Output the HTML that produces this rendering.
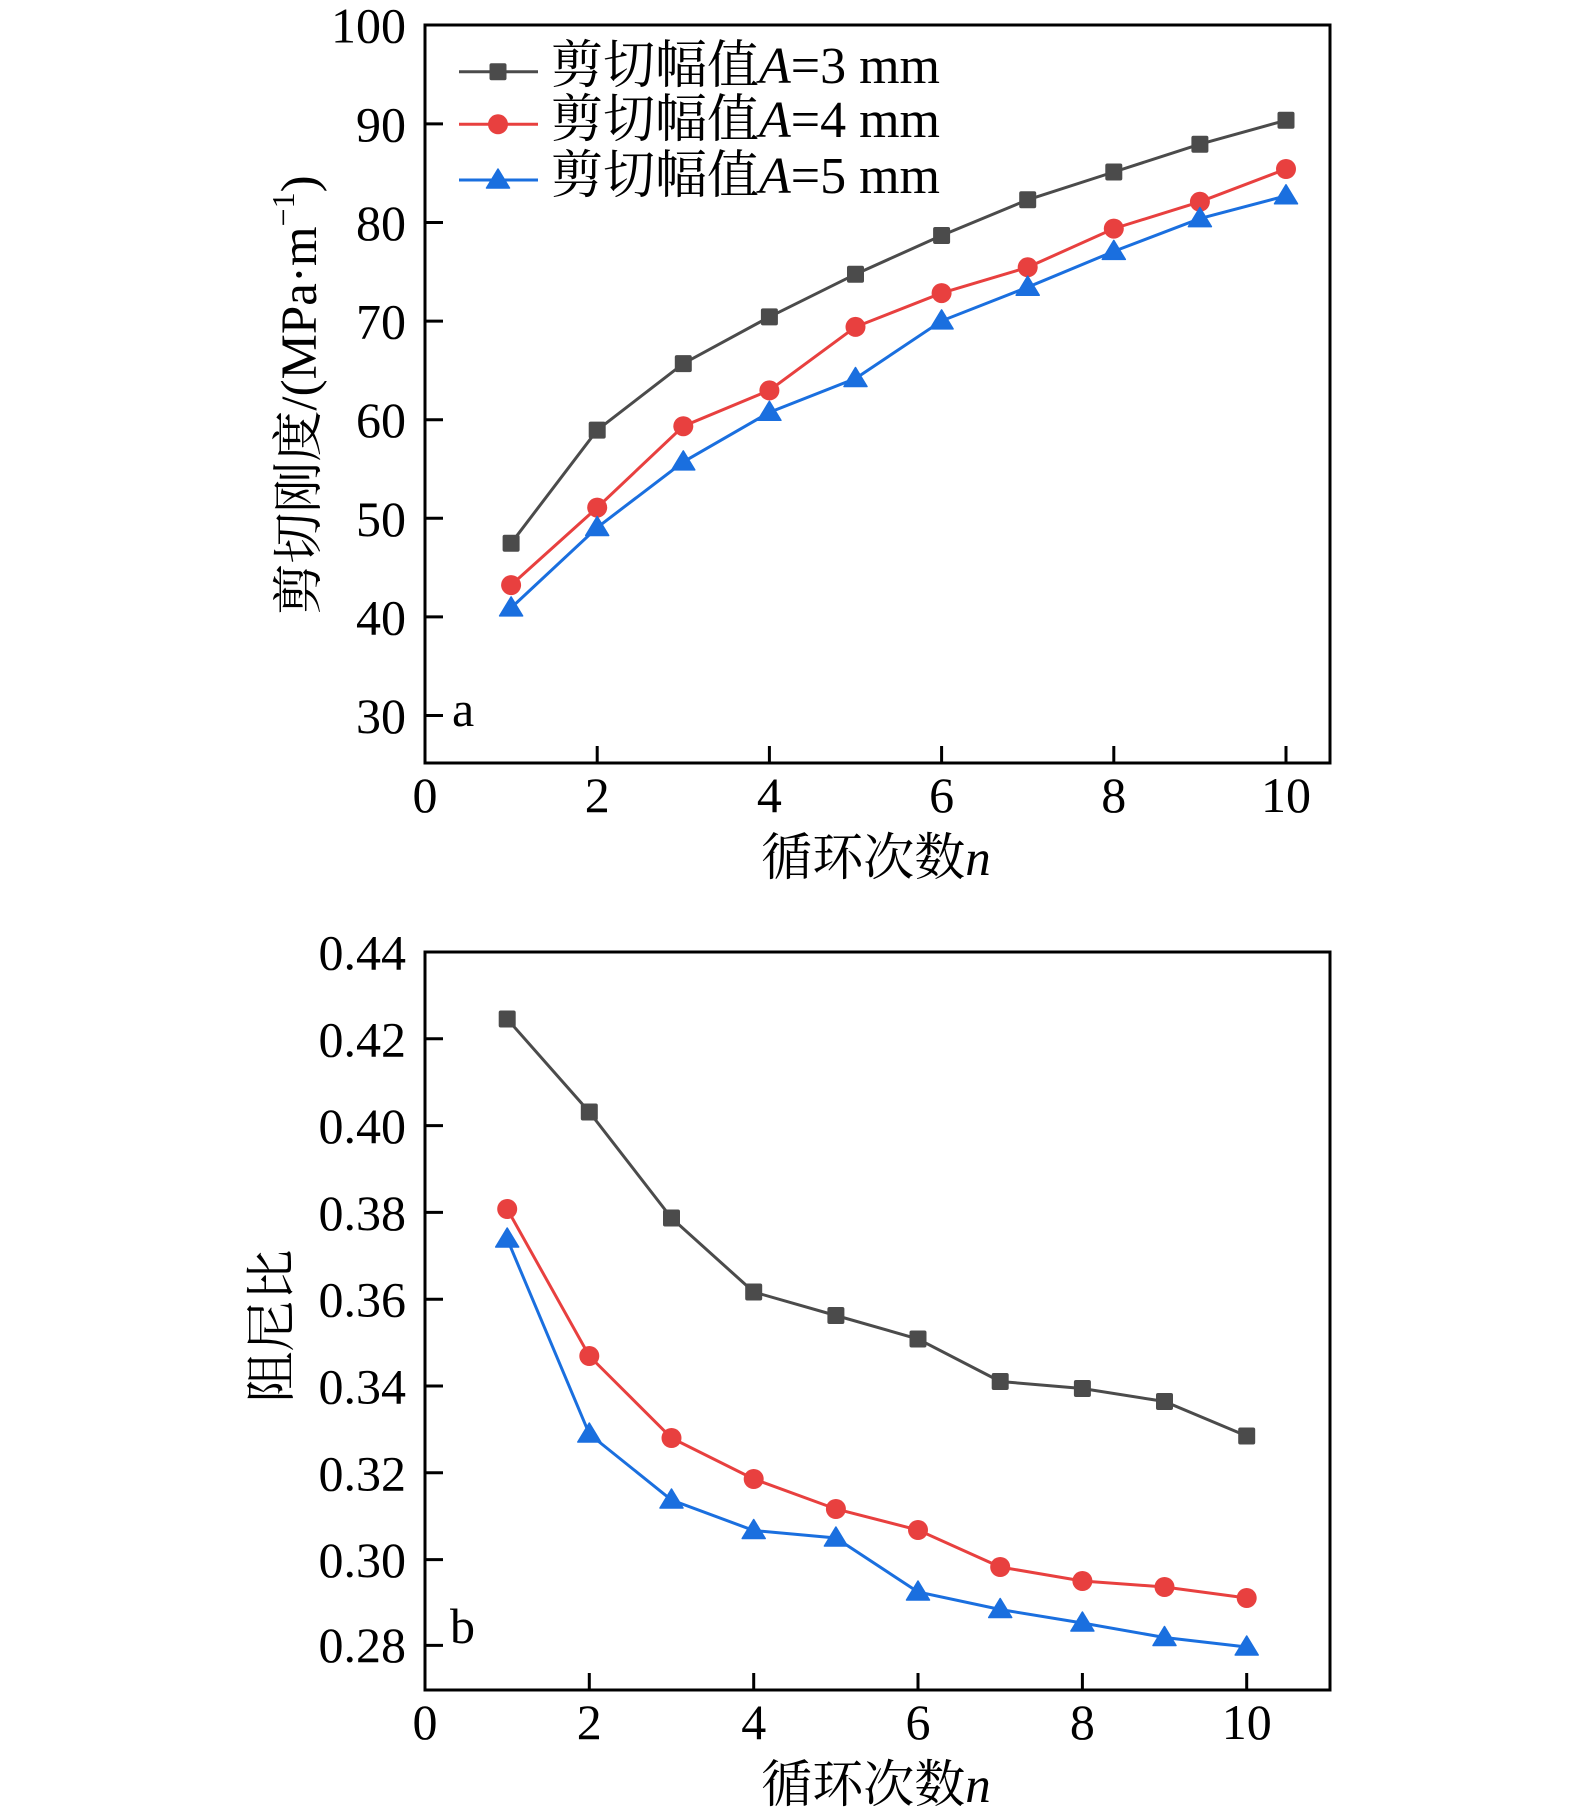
<!DOCTYPE html>
<html>
<head>
<meta charset="utf-8">
<style>
  html,body{margin:0;padding:0;background:#fff;}
  svg{display:block;}
  .t{font-family:"Liberation Serif","Noto Serif CJK SC",serif;fill:#000;}
</style>
</head>
<body>
<svg width="1575" height="1817" viewBox="0 0 1575 1817" xmlns="http://www.w3.org/2000/svg">
  <defs>
    <g id="sq"><rect x="-8.5" y="-8.5" width="17" height="17" rx="2" fill="#4b4b4b"/></g>
    <g id="ci"><circle r="10" fill="#e8403f"/></g>
    <g id="tr"><path d="M0,-11 L11.5,8 L-11.5,8 Z" fill="#1a6fdf" stroke="#1a6fdf" stroke-width="1.5" stroke-linejoin="round"/></g>
  </defs>

  <!-- ================= PLOT A ================= -->
  <rect x="425" y="25" width="905" height="738" fill="none" stroke="#000" stroke-width="3"/>
  <g stroke="#000" stroke-width="3">
    <line x1="425" y1="123.9" x2="443" y2="123.9"/>
    <line x1="425" y1="222.5" x2="443" y2="222.5"/>
    <line x1="425" y1="321.1" x2="443" y2="321.1"/>
    <line x1="425" y1="419.7" x2="443" y2="419.7"/>
    <line x1="425" y1="518.3" x2="443" y2="518.3"/>
    <line x1="425" y1="616.9" x2="443" y2="616.9"/>
    <line x1="425" y1="715.5" x2="443" y2="715.5"/>
    <line x1="597.2" y1="763" x2="597.2" y2="746"/>
    <line x1="769.4" y1="763" x2="769.4" y2="746"/>
    <line x1="941.6" y1="763" x2="941.6" y2="746"/>
    <line x1="1113.8" y1="763" x2="1113.8" y2="746"/>
    <line x1="1286" y1="763" x2="1286" y2="746"/>
  </g>
  <g class="t" font-size="50" text-anchor="end">
    <text x="406" y="42.5">100</text>
    <text x="406" y="141.4">90</text>
    <text x="406" y="240">80</text>
    <text x="406" y="338.6">70</text>
    <text x="406" y="437.2">60</text>
    <text x="406" y="535.8">50</text>
    <text x="406" y="634.4">40</text>
    <text x="406" y="733">30</text>
  </g>
  <g class="t" font-size="50" text-anchor="middle">
    <text x="425" y="812">0</text>
    <text x="597.2" y="812">2</text>
    <text x="769.4" y="812">4</text>
    <text x="941.6" y="812">6</text>
    <text x="1113.8" y="812">8</text>
    <text x="1286" y="812">10</text>
  </g>
  <text class="t" font-size="50" x="452" y="726">a</text>
  <text class="t" font-size="51" x="876" y="875" text-anchor="middle">循环次数<tspan font-style="italic">n</tspan></text>
  <text class="t" font-size="51" text-anchor="middle" transform="translate(316,395) rotate(-90)">剪切刚度/(MPa·m<tspan font-size="32" dy="-22">−1</tspan><tspan dy="22">)</tspan></text>

  <polyline fill="none" stroke="#4b4b4b" stroke-width="3" points="511.1,543.3 597.2,430.1 683.3,363.6 769.4,316.9 855.5,274.2 941.6,235.5 1027.7,199.8 1113.8,172 1199.9,144.2 1286,120.3"/>
  <polyline fill="none" stroke="#e8403f" stroke-width="3" points="511.1,585.1 597.2,507.6 683.3,426.2 769.4,390.4 855.5,326.9 941.6,293.1 1027.7,267.3 1113.8,228.6 1199.9,201.8 1286,169"/>
  <polyline fill="none" stroke="#1a6fdf" stroke-width="3" points="511.1,607.9 597.2,527.5 683.3,461.9 769.4,412.3 855.5,378.5 941.6,320.9 1027.7,287.2 1113.8,251.4 1199.9,218.6 1286,195.8"/>
  <g>
    <use href="#sq" x="511.1" y="543.3"/><use href="#sq" x="597.2" y="430.1"/><use href="#sq" x="683.3" y="363.6"/><use href="#sq" x="769.4" y="316.9"/><use href="#sq" x="855.5" y="274.2"/><use href="#sq" x="941.6" y="235.5"/><use href="#sq" x="1027.7" y="199.8"/><use href="#sq" x="1113.8" y="172"/><use href="#sq" x="1199.9" y="144.2"/><use href="#sq" x="1286" y="120.3"/>
    <use href="#ci" x="511.1" y="585.1"/><use href="#ci" x="597.2" y="507.6"/><use href="#ci" x="683.3" y="426.2"/><use href="#ci" x="769.4" y="390.4"/><use href="#ci" x="855.5" y="326.9"/><use href="#ci" x="941.6" y="293.1"/><use href="#ci" x="1027.7" y="267.3"/><use href="#ci" x="1113.8" y="228.6"/><use href="#ci" x="1199.9" y="201.8"/><use href="#ci" x="1286" y="169"/>
    <use href="#tr" x="511.1" y="607.9"/><use href="#tr" x="597.2" y="527.5"/><use href="#tr" x="683.3" y="461.9"/><use href="#tr" x="769.4" y="412.3"/><use href="#tr" x="855.5" y="378.5"/><use href="#tr" x="941.6" y="320.9"/><use href="#tr" x="1027.7" y="287.2"/><use href="#tr" x="1113.8" y="251.4"/><use href="#tr" x="1199.9" y="218.6"/><use href="#tr" x="1286" y="195.8"/>
  </g>

  <!-- legend -->
  <line x1="459" y1="71.7" x2="538" y2="71.7" stroke="#4b4b4b" stroke-width="3"/>
  <use href="#sq" x="498" y="71.7"/>
  <line x1="459" y1="124.3" x2="538" y2="124.3" stroke="#e8403f" stroke-width="3"/>
  <use href="#ci" x="498" y="124.3"/>
  <line x1="459" y1="180" x2="538" y2="180" stroke="#1a6fdf" stroke-width="3"/>
  <use href="#tr" x="498" y="180"/>
  <g class="t" font-size="52">
    <text x="551" y="83">剪切幅值<tspan font-style="italic">A</tspan>=3 mm</text>
    <text x="551" y="137">剪切幅值<tspan font-style="italic">A</tspan>=4 mm</text>
    <text x="551" y="193">剪切幅值<tspan font-style="italic">A</tspan>=5 mm</text>
  </g>

  <!-- ================= PLOT B ================= -->
  <rect x="425" y="952" width="905" height="738" fill="none" stroke="#000" stroke-width="3"/>
  <g stroke="#000" stroke-width="3">
    <line x1="425" y1="1038.8" x2="443" y2="1038.8"/>
    <line x1="425" y1="1125.6" x2="443" y2="1125.6"/>
    <line x1="425" y1="1212.4" x2="443" y2="1212.4"/>
    <line x1="425" y1="1299.2" x2="443" y2="1299.2"/>
    <line x1="425" y1="1386" x2="443" y2="1386"/>
    <line x1="425" y1="1472.8" x2="443" y2="1472.8"/>
    <line x1="425" y1="1559.6" x2="443" y2="1559.6"/>
    <line x1="425" y1="1645.4" x2="443" y2="1645.4"/>
    <line x1="589.3" y1="1690" x2="589.3" y2="1673"/>
    <line x1="753.7" y1="1690" x2="753.7" y2="1673"/>
    <line x1="918" y1="1690" x2="918" y2="1673"/>
    <line x1="1082.4" y1="1690" x2="1082.4" y2="1673"/>
    <line x1="1246.7" y1="1690" x2="1246.7" y2="1673"/>
  </g>
  <g class="t" font-size="50" text-anchor="end">
    <text x="406" y="969.5">0.44</text>
    <text x="406" y="1056.3">0.42</text>
    <text x="406" y="1143.1">0.40</text>
    <text x="406" y="1229.9">0.38</text>
    <text x="406" y="1316.7">0.36</text>
    <text x="406" y="1403.5">0.34</text>
    <text x="406" y="1490.3">0.32</text>
    <text x="406" y="1577.1">0.30</text>
    <text x="406" y="1662">0.28</text>
  </g>
  <g class="t" font-size="50" text-anchor="middle">
    <text x="425" y="1739">0</text>
    <text x="589.3" y="1739">2</text>
    <text x="753.7" y="1739">4</text>
    <text x="918" y="1739">6</text>
    <text x="1082.4" y="1739">8</text>
    <text x="1246.7" y="1739">10</text>
  </g>
  <text class="t" font-size="50" x="450" y="1643">b</text>
  <text class="t" font-size="51" x="876" y="1802" text-anchor="middle">循环次数<tspan font-style="italic">n</tspan></text>
  <text class="t" font-size="51" text-anchor="middle" transform="translate(289,1326) rotate(-90)">阻尼比</text>

  <polyline fill="none" stroke="#4b4b4b" stroke-width="3" points="507.2,1019 589.3,1112 671.5,1218 753.7,1292 835.9,1315.5 918,1339 1000.2,1381.5 1082.4,1388.5 1164.5,1401.5 1246.7,1436"/>
  <polyline fill="none" stroke="#e8403f" stroke-width="3" points="507.2,1209 589.3,1356 671.5,1438 753.7,1479 835.9,1509 918,1530 1000.2,1567 1082.4,1581 1164.5,1587 1246.7,1598"/>
  <polyline fill="none" stroke="#1a6fdf" stroke-width="3" points="507.2,1239 589.3,1434 671.5,1500 753.7,1530.5 835.9,1538 918,1592 1000.2,1609.5 1082.4,1623 1164.5,1637.5 1246.7,1647"/>
  <g>
    <use href="#sq" x="507.2" y="1019"/><use href="#sq" x="589.3" y="1112"/><use href="#sq" x="671.5" y="1218"/><use href="#sq" x="753.7" y="1292"/><use href="#sq" x="835.9" y="1315.5"/><use href="#sq" x="918" y="1339"/><use href="#sq" x="1000.2" y="1381.5"/><use href="#sq" x="1082.4" y="1388.5"/><use href="#sq" x="1164.5" y="1401.5"/><use href="#sq" x="1246.7" y="1436"/>
    <use href="#ci" x="507.2" y="1209"/><use href="#ci" x="589.3" y="1356"/><use href="#ci" x="671.5" y="1438"/><use href="#ci" x="753.7" y="1479"/><use href="#ci" x="835.9" y="1509"/><use href="#ci" x="918" y="1530"/><use href="#ci" x="1000.2" y="1567"/><use href="#ci" x="1082.4" y="1581"/><use href="#ci" x="1164.5" y="1587"/><use href="#ci" x="1246.7" y="1598"/>
    <use href="#tr" x="507.2" y="1239"/><use href="#tr" x="589.3" y="1434"/><use href="#tr" x="671.5" y="1500"/><use href="#tr" x="753.7" y="1530.5"/><use href="#tr" x="835.9" y="1538"/><use href="#tr" x="918" y="1592"/><use href="#tr" x="1000.2" y="1609.5"/><use href="#tr" x="1082.4" y="1623"/><use href="#tr" x="1164.5" y="1637.5"/><use href="#tr" x="1246.7" y="1647"/>
  </g>
</svg>
</body>
</html>
